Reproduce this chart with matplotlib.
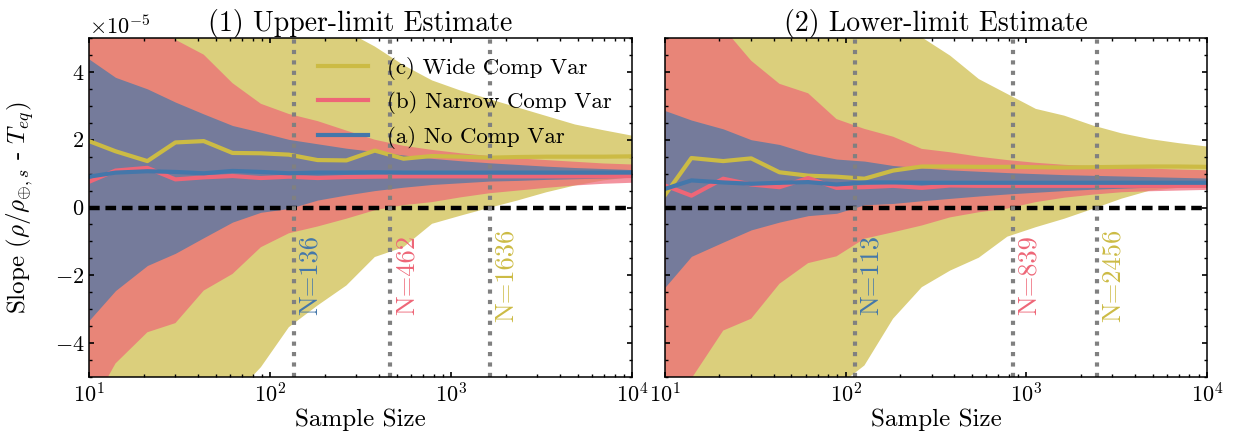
import numpy as np
import matplotlib
matplotlib.use("Agg")
import matplotlib.pyplot as plt

plt.rcParams.update({
    "font.family": "serif", "font.serif": ["cmr10"], "mathtext.fontset": "cm",
    "axes.formatter.use_mathtext": True, "axes.unicode_minus": True,
    "font.size": 16, "xtick.labelsize": 16, "ytick.labelsize": 16,
    "xtick.direction": "in", "ytick.direction": "in",
    "xtick.top": True, "ytick.right": True,
    "xtick.major.size": 3.5, "ytick.major.size": 3.5,
    "xtick.minor.size": 2, "ytick.minor.size": 2,
    "xtick.major.width": 1.2, "ytick.major.width": 1.2,
    "xtick.minor.width": 1.0, "ytick.minor.width": 1.0,
    "axes.linewidth": 1.1,
})

YEL = "#CCBB44"; RED = "#EE6677"; BLU = "#4477AA"; GREY = "#808080"
SCALE = 1e-5

# sample sizes used for the bootstrap
N = [10, 14, 21, 30, 43, 62, 89, 127, 183, 264, 379, 546, 785, 1129, 1624,
     2336, 3360, 4833, 6952, 10000]

# (1) upper-limit estimate, slope in units of 1e-5
up_wide_med = [1.96, 1.66, 1.37, 1.92, 1.96, 1.61, 1.60, 1.56, 1.40, 1.39, 1.68, 1.44, 1.52, 1.50, 1.47, 1.49, 1.50, 1.50, 1.50, 1.51]
up_wide_hi = [14.0, 12.0, 10.5, 9.0, 8.0, 7.2, 6.5, 6.0, 5.6, 5.2, 4.75, 4.2, 3.75, 3.45, 3.2, 2.95, 2.7, 2.45, 2.28, 2.12]
up_wide_lo = [-14.0, -12.0, -10.0, -8.5, -7.0, -5.6, -4.71, -3.53, -2.89, -2.30, -1.46, -1.17, -0.48, -0.24, -0.01, 0.21, 0.45, 0.65, 0.80, 0.90]
up_narrow_med = [0.76, 1.09, 1.17, 0.83, 0.89, 0.93, 0.87, 0.91, 0.87, 0.90, 0.91, 0.92, 0.92, 0.92, 0.92, 0.92, 0.92, 0.92, 0.92, 0.93]
up_narrow_hi = [7.5, 6.5, 5.6, 4.95, 4.51, 3.67, 3.06, 2.76, 2.55, 2.27, 2.0, 1.82, 1.70, 1.60, 1.52, 1.45, 1.40, 1.35, 1.30, 1.27]
up_narrow_lo = [-6.0, -4.6, -3.68, -3.41, -2.45, -1.96, -1.17, -0.76, -0.56, -0.33, -0.08, 0.07, 0.16, 0.30, 0.42, 0.50, 0.58, 0.65, 0.70, 0.73]
up_none_med = [0.91, 1.03, 1.07, 1.05, 1.01, 1.08, 1.05, 1.01, 1.03, 1.03, 1.04, 1.03, 1.03, 1.03, 1.03, 1.03, 1.03, 1.03, 1.03, 1.03]
up_none_hi = [4.38, 3.84, 3.50, 3.11, 2.76, 2.42, 2.22, 2.01, 1.88, 1.75, 1.65, 1.55, 1.45, 1.38, 1.32, 1.27, 1.22, 1.18, 1.15, 1.12]
up_none_lo = [-3.33, -2.45, -1.71, -1.35, -0.89, -0.43, -0.14, -0.03, 0.22, 0.37, 0.50, 0.60, 0.68, 0.73, 0.78, 0.80, 0.83, 0.85, 0.87, 0.89]

# (2) lower-limit estimate
lo_wide_med = [0.37, 1.46, 1.37, 1.45, 1.04, 0.94, 0.91, 0.85, 1.09, 1.21, 1.21, 1.20, 1.20, 1.19, 1.18, 1.19, 1.20, 1.21, 1.21, 1.20]
lo_wide_hi = [14.0, 12.0, 10.5, 9.0, 8.0, 7.0, 6.4, 5.9, 5.4, 5.02, 4.48, 3.79, 3.35, 2.91, 2.71, 2.42, 2.19, 2.02, 1.90, 1.80]
lo_wide_lo = [-14.0, -12.0, -10.0, -8.5, -7.0, -6.2, -5.3, -4.66, -3.28, -2.35, -1.86, -1.48, -0.86, -0.58, -0.33, -0.04, 0.26, 0.50, 0.58, 0.64]
lo_narrow_med = [0.65, 0.35, 0.85, 0.68, 0.60, 0.87, 0.58, 0.60, 0.64, 0.58, 0.65, 0.64, 0.64, 0.64, 0.64, 0.64, 0.64, 0.64, 0.64, 0.64]
lo_narrow_hi = [8.0, 6.5, 5.3, 4.33, 3.65, 3.37, 2.61, 2.32, 2.09, 1.73, 1.63, 1.50, 1.40, 1.32, 1.26, 1.22, 1.18, 1.15, 1.12, 1.10]
lo_narrow_lo = [-6.5, -5.05, -3.63, -3.28, -2.25, -1.64, -1.44, -0.92, -0.73, -0.53, -0.29, -0.14, -0.03, 0.16, 0.29, 0.38, 0.45, 0.48, 0.50, 0.52]
lo_none_med = [0.55, 0.80, 0.74, 0.70, 0.73, 0.75, 0.68, 0.74, 0.74, 0.73, 0.73, 0.73, 0.73, 0.73, 0.73, 0.73, 0.73, 0.73, 0.73, 0.73]
lo_none_hi = [2.86, 2.58, 2.32, 2.00, 1.86, 1.60, 1.43, 1.37, 1.24, 1.17, 1.11, 1.07, 1.03, 1.00, 0.97, 0.95, 0.93, 0.91, 0.89, 0.87]
lo_none_lo = [-2.35, -1.44, -1.02, -0.66, -0.43, -0.24, -0.17, 0.08, 0.12, 0.20, 0.27, 0.34, 0.40, 0.45, 0.50, 0.54, 0.57, 0.60, 0.62, 0.64]

# sample size where each lower bound crosses zero
up_cross = [136, 462, 1636]
lo_cross = [113, 839, 2456]

LABELS = ["(c) Wide Comp Var", "(b) Narrow Comp Var", "(a) No Comp Var"]
COLS = [YEL, RED, BLU]

panels = [
    ("(1) Upper-limit Estimate",
     [(up_wide_med, up_wide_lo, up_wide_hi), (up_narrow_med, up_narrow_lo, up_narrow_hi),
      (up_none_med, up_none_lo, up_none_hi)], up_cross),
    ("(2) Lower-limit Estimate",
     [(lo_wide_med, lo_wide_lo, lo_wide_hi), (lo_narrow_med, lo_narrow_lo, lo_narrow_hi),
      (lo_none_med, lo_none_lo, lo_none_hi)], lo_cross),
]

fig = plt.figure(figsize=(12.37, 4.46), dpi=100)
ax1 = fig.add_axes([0.072, 0.1547, 0.439, 0.760])
ax2 = fig.add_axes([0.5376, 0.1547, 0.4381, 0.760], sharey=ax1)

x = np.array(N, dtype=float)
for ax, (title, series, cross) in zip([ax1, ax2], panels):
    # bands first so the medians sit on top of every band
    for (med, lo, hi), c in zip(series, COLS):
        ax.fill_between(x, np.array(lo) * SCALE, np.array(hi) * SCALE,
                        color=c, alpha=0.7, lw=0)
    for (med, lo, hi), c, lab in zip(series, COLS, LABELS):
        ax.plot(x, np.array(med) * SCALE, color=c, lw=3, label=lab)
    ax.axhline(0, color="k", lw=3.2, ls=(0, (2.4, 1.3)))
    for n, c in zip(cross[::-1], COLS):
        ax.axvline(n, color=GREY, lw=3, ls=(0, (1, 1.5)))
        ax.annotate(f"N={n}", (n, -2e-5), xytext=(3, 0), textcoords="offset points",
                    rotation=90, ha="left", va="center", color=c, fontsize=19)
    ax.set_xscale("log")
    ax.set_xlim(10, 1e4)
    ax.set_ylim(-5e-5, 5e-5)
    ax.set_yticks([-4e-5, -2e-5, 0, 2e-5, 4e-5])
    ax.yaxis.set_minor_locator(matplotlib.ticker.MultipleLocator(0.5e-5))
    ax.set_xlabel("Sample Size", fontsize=18, labelpad=2)
    ax.set_title(title, fontsize=20, pad=4)
    ax.tick_params(which="both", top=True, right=True)

ax1.set_ylabel(r"Slope ($\rho/\rho_{\oplus,s}$ - $T_{eq}$)", fontsize=18, labelpad=13)
ax2.tick_params(labelleft=False)
ax2.yaxis.get_offset_text().set_visible(False)

ax1.legend(loc="upper right", bbox_to_anchor=(0.962, 0.945), frameon=False,
           fontsize=16.5, borderpad=0, handlelength=2.2, handletextpad=0.8,
           labelspacing=0.5, borderaxespad=0)

fig.savefig("out.png", dpi=100)
